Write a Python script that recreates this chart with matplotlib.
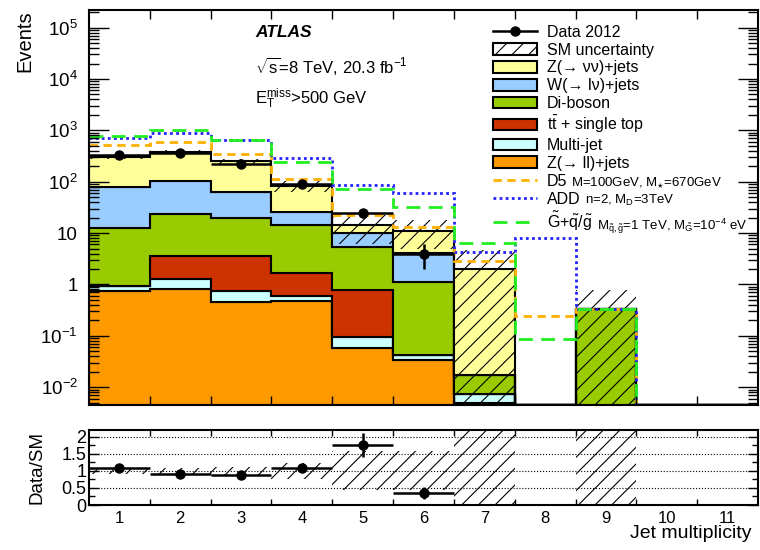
import numpy as np
import matplotlib
matplotlib.use("Agg")
import matplotlib.pyplot as plt
from matplotlib.patches import Patch
from matplotlib.lines import Line2D
from matplotlib.ticker import LogLocator, NullFormatter, MultipleLocator

plt.rcParams['font.family'] = ['Liberation Sans', 'DejaVu Sans']
plt.rcParams['mathtext.fontset'] = 'custom'
plt.rcParams['mathtext.rm'] = 'Liberation Sans'
plt.rcParams['mathtext.it'] = 'Liberation Sans:italic'
plt.rcParams['mathtext.bf'] = 'Liberation Sans:bold'
plt.rcParams['mathtext.default'] = 'regular'
plt.rcParams['hatch.linewidth'] = 0.8

# --- data: events per jet multiplicity bin ---
njets = np.arange(1, 12)

zll      = [0.73, 0.82, 0.455, 0.475, 0.058, 0.034, 0.005, 0, 0, 0, 0]
multijet = [0.20, 0.47, 0.285, 0.11, 0.039, 0.008, 0.0025, 0, 0, 0, 0]
top      = [0, 2.31, 2.83, 1.105, 0.693, 0, 0, 0, 0, 0, 0]
diboson  = [11.57, 20.1, 16.33, 12.41, 4.51, 1.098, 0.0095, 0, 0.34, 0, 0]
wlnu     = [66.0, 81.3, 44.6, 12.2, 4.7, 2.96, 0, 0, 0, 0, 0]
znunu    = [226.5, 280.0, 185.5, 56.7, 4.2, 7.1, 1.98, 0, 0, 0, 0]

# relative SM uncertainty
sm_err = [0.10, 0.10, 0.12, 0.24, 0.57, 0.57, 1.3, 0, 1.25, 0, 0]

data = [333, 355, 223, 90, 25, 4, 0, 0, 0, 0, 0]

# signal + SM predictions
d5   = [528, 590, 344, 114, 23, 13.4, 2.85, 0.243, 0.34, 0, 0]
add  = [707, 881, 660, 292, 87, 60.8, 4.27, 8.0, 0.34, 0, 0]
gmsb = [790, 1037, 640, 247, 73, 32.5, 6.5, 0.085, 0.34, 0, 0]

stack = [zll, multijet, top, diboson, wlnu, znunu]
stack_colors = ['#FF9900', '#CCFFFF', '#CC3300', '#99CC00', '#99CCFF', '#FFFF99']

ymin, ymax = 0.0045, 2.2e5
edges = np.arange(0.5, 12.0, 1.0)

fig = plt.figure(figsize=(7.6, 5.5), dpi=100)
ax = fig.add_axes([0.1171, 0.2636, 0.8803, 0.7182])
rax = fig.add_axes([0.1171, 0.0818, 0.8803, 0.1364])

# ---- main panel ----
bottom = np.zeros(len(njets))
for vals, col in zip(stack, stack_colors):
    tops = bottom + np.array(vals)
    ax.stairs(np.maximum(tops, ymin), edges, baseline=np.maximum(bottom, ymin),
              fill=True, facecolor=col, edgecolor='black', lw=1.5)
    bottom = tops
total = bottom
err = np.array(sm_err)

ax.bar(njets, total * (1 + err) - np.maximum(total * (1 - err), ymin * 0.5),
       bottom=np.maximum(total * (1 - err), ymin * 0.5), width=1.0,
       fill=False, hatch='//', edgecolor='black', lw=0)

ax.stairs(np.maximum(d5, ymin), edges, baseline=None, color='#FFB000', ls=(0, (3, 2)), lw=2)
ax.stairs(np.maximum(add, ymin), edges, baseline=None, color='#2222FF', ls=(0, (1, 1.2)), lw=2)
ax.stairs(np.maximum(gmsb, ymin), edges, baseline=None, color='#22EE22', ls=(0, (5, 3)), lw=2)

data = np.array(data, dtype=float)
has = data > 0
ax.errorbar(njets[has], data[has], xerr=0.5, yerr=np.sqrt(data[has]), fmt='o',
            color='black', ms=6.5, lw=1.8, capsize=0, zorder=5)

ax.set_yscale('log')
ax.set_xlim(0.5, 11.5)
ax.set_ylim(ymin, ymax)
yt = [1e-2, 1e-1, 1, 10, 1e2, 1e3, 1e4, 1e5]
ylab = [r'$10^{-2}$', r'$10^{-1}$', '1', '10', r'$10^{2}$', r'$10^{3}$', r'$10^{4}$', r'$10^{5}$']
ax.set_yticks(yt, ylab)
ax.yaxis.set_minor_locator(LogLocator(base=10, subs=np.arange(2, 10), numticks=30))
ax.yaxis.set_minor_formatter(NullFormatter())
ax.tick_params(axis='y', which='major', direction='in', length=14.5, width=1,
               left=True, right=True, labelsize=13.5, pad=8)
ax.tick_params(axis='y', which='minor', direction='in', length=7, width=1, left=True, right=True)
ax.set_xticks(edges[1:-1])
ax.tick_params(axis='x', which='major', direction='in', length=6.5, width=1,
               top=True, bottom=True, labelbottom=False)
for s in ax.spines.values():
    s.set_linewidth(1.5)

handles = [
    Line2D([], [], color='black', marker='o', ms=6.5, lw=1.8),
    Patch(facecolor='white', edgecolor='black', hatch='//', lw=1.5),
    Patch(facecolor=stack_colors[5], edgecolor='black', lw=1.5),
    Patch(facecolor=stack_colors[4], edgecolor='black', lw=1.5),
    Patch(facecolor=stack_colors[3], edgecolor='black', lw=1.5),
    Patch(facecolor=stack_colors[2], edgecolor='black', lw=1.5),
    Patch(facecolor=stack_colors[1], edgecolor='black', lw=1.5),
    Patch(facecolor=stack_colors[0], edgecolor='black', lw=1.5),
    Line2D([], [], color='#FFB000', ls=(0, (3, 2)), lw=2),
    Line2D([], [], color='#2222FF', ls=(0, (1, 1.2)), lw=2),
    Line2D([], [], color='#22EE22', ls=(0, (5, 3)), lw=2),
]
labels = [
    'Data 2012', 'SM uncertainty', 'Z(→ νν)+jets', 'W(→ lν)+jets', 'Di-boson',
    r'$t\bar{t}$ + single top', 'Multi-jet', 'Z(→ ll)+jets',
    'D5', 'ADD', r'$\tilde{G}$+$\tilde{q}$/$\tilde{g}$',
]
leg = ax.legend(handles, labels, loc='upper left', bbox_to_anchor=(0.6035, 0.963),
                frameon=False, fontsize=11.5, handlelength=2.8, handleheight=0.75,
                handletextpad=0.6, labelspacing=0.18, borderpad=0, borderaxespad=0)

ax.text(0.248, 0.943, 'ATLAS', transform=ax.transAxes, fontsize=12.5,
        fontweight='bold', fontstyle='italic', va='center')
ax.text(0.248, 0.858, r'$\sqrt{s}$=8 TeV, 20.3 fb$^{-1}$', transform=ax.transAxes,
        fontsize=12, va='center')
ax.text(0.248, 0.775, r'$E_{T}^{miss}$>500 GeV', transform=ax.transAxes,
        fontsize=12, va='center')

# ---- ratio panel ----
tot_ok = total > 0
lo = np.where(tot_ok, np.clip(1 - err, 0, None), 0)
hi = np.where(tot_ok, 1 + err, 0)
rax.bar(njets, hi - lo, bottom=lo, width=1.0, fill=False, hatch='//',
        edgecolor='black', lw=0)
ratio = data[has] / total[has]
rax.errorbar(njets[has], ratio, xerr=0.5, yerr=np.sqrt(data[has]) / total[has],
             fmt='o', color='black', ms=6.5, lw=1.8, capsize=0, zorder=5)

rax.set_xlim(0.5, 11.5)
rax.set_ylim(0, 2.2)
rax.set_yticks([0, 0.5, 1, 1.5, 2], ['0', '0.5', '1', '1.5', '2'])
rax.yaxis.set_minor_locator(MultipleLocator(0.25))
rax.grid(axis='y', which='major', ls=':', color='black', lw=0.8)
rax.tick_params(axis='y', which='major', direction='in', length=7, width=1,
                left=True, right=True, labelsize=13, pad=2)
rax.tick_params(axis='y', which='minor', direction='in', length=4, width=1, left=True, right=True)
rax.set_xticks(edges[1:-1])
rax.tick_params(axis='x', which='major', direction='in', length=4, width=1,
                top=True, bottom=True, labelbottom=False)
rax.set_xticks(njets, [str(n) for n in njets], minor=True)
rax.tick_params(axis='x', which='minor', length=0, labelsize=12, pad=4)
for s in rax.spines.values():
    s.set_linewidth(1.5)

fig.text(25 / 760, 1 - 10 / 550, 'Events', rotation=90, ha='center', va='top', fontsize=14.5)
fig.text(37 / 760, 1 - 467 / 550, 'Data/SM', rotation=90, ha='center', va='center', fontsize=13.5)
fig.text(752 / 760, 1 - 533 / 550, 'Jet multiplicity', ha='right', va='center', fontsize=14)

# smaller parameter text after the signal legend labels, on the same baseline
fig.canvas.draw()
renderer = fig.canvas.get_renderer()
inv = ax.transAxes.inverted()
small = [r'M=100GeV, M$_{\star}$=670GeV', r'n=2, M$_{D}$=3TeV',
         r'M$_{\tilde{q},\tilde{g}}$=1 TeV, M$_{\tilde{G}}$=10$^{-4}$ eV']
for t, s in zip(leg.get_texts()[-3:], small):
    bb = t.get_window_extent(renderer)
    _, _, desc = renderer.get_text_width_height_descent('lp', t.get_fontproperties(), ismath=False)
    x1, yb = inv.transform((bb.x1 + 4, bb.y0 + desc))
    ax.text(x1, yb, s, transform=ax.transAxes, ha='left', va='baseline', fontsize=9.5)

fig.savefig('out.png', dpi=100)
